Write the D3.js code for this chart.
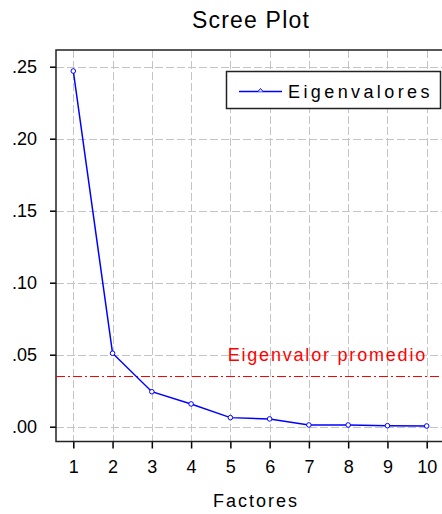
<!DOCTYPE html>
<html>
<head>
<meta charset="utf-8">
<script src="https://cdn.jsdelivr.net/npm/d3@7"></script>
<style>
	body { margin: 0; background: #fff; }
	svg { display: block; }
	text { font-family: "Liberation Sans", Arial, sans-serif; fill: #000; }
</style>
</head>
<body>
<div id="widget"></div>
<script>
// data
var factores = [1, 2, 3, 4, 5, 6, 7, 8, 9, 10];
var eigenvalores = [0.247, 0.051, 0.0243, 0.0158, 0.0063, 0.0054, 0.0012, 0.0012, 0.0007, 0.0005];
var promedio = 0.0354;
var yTicks = [0, 0.05, 0.10, 0.15, 0.20, 0.25];

var W = 442, H = 514;
var frame = {left: 56, top: 50, right: 452, bottom: 441.5};

var svg = d3.select("#widget")
	.append("svg")
	.attr("width", W)
	.attr("height", H);

var x = d3.scaleLinear().domain([1, 10]).range([73.3, 426.7]);
var y = d3.scaleLinear().domain([0, 0.25]).range([426.7, 66.7]);

// grid
var grid = svg.append("g")
	.attr("stroke", "#c4c4c4")
	.attr("stroke-dasharray", "8,3")
	.attr("stroke-width", 1);

grid.selectAll(".gx")
	.data(factores)
	.enter()
	.append("line")
	.attr("x1", function(d) { return Math.round(x(d)) + 0.5; })
	.attr("x2", function(d) { return Math.round(x(d)) + 0.5; })
	.attr("y1", frame.top)
	.attr("y2", frame.bottom);

grid.selectAll(".gy")
	.data(yTicks)
	.enter()
	.append("line")
	.attr("y1", function(d) { return Math.round(y(d)) + 0.5; })
	.attr("y2", function(d) { return Math.round(y(d)) + 0.5; })
	.attr("x1", frame.left)
	.attr("x2", frame.right);

// axes
var yAxis = d3.axisLeft(y)
	.tickValues(yTicks)
	.tickSize(6)
	.tickPadding(13)
	.tickFormat(function(d) { return d3.format(".2f")(d).replace(/^0/, ""); });

var xAxis = d3.axisBottom(x)
	.tickValues(factores)
	.tickSize(7)
	.tickPadding(12)
	.tickFormat(d3.format("d"));

var gy = svg.append("g")
	.attr("transform", "translate(" + frame.left + ",0)")
	.call(yAxis);
var gx = svg.append("g")
	.attr("transform", "translate(0," + frame.bottom + ")")
	.call(xAxis);

[gx, gy].forEach(function(g) {
	g.select(".domain").remove();
	g.selectAll(".tick line").attr("stroke", "#000").attr("stroke-width", 1.5);
	g.selectAll(".tick text")
		.style("font-size", "18px")
		.attr("fill", "#000");
});

// frame
svg.append("rect")
	.attr("x", frame.left)
	.attr("y", frame.top)
	.attr("width", frame.right - frame.left)
	.attr("height", frame.bottom - frame.top)
	.attr("fill", "none")
	.attr("stroke", "#222")
	.attr("stroke-width", 1.5);

// average eigenvalue line
svg.append("line")
	.attr("x1", frame.left)
	.attr("x2", frame.right)
	.attr("y1", Math.round(y(promedio)) + 0.5)
	.attr("y2", Math.round(y(promedio)) + 0.5)
	.attr("stroke", "#ff0000")
	.attr("stroke-width", 1)
	.attr("stroke-dasharray", "9,3,2,3");

svg.append("text")
	.attr("x", 427)
	.attr("y", 360.5)
	.attr("text-anchor", "end")
	.style("font-size", "18px")
	.style("letter-spacing", "1.8px")
	.style("fill", "#ff0000")
	.text("Eigenvalor promedio");

// scree line
var line = d3.line()
	.x(function(d, i) { return x(factores[i]); })
	.y(function(d) { return y(d); });

svg.append("path")
	.datum(eigenvalores)
	.attr("d", line)
	.attr("fill", "none")
	.attr("stroke", "#0000ff")
	.attr("stroke-width", 1.5);

svg.selectAll(".pt")
	.data(eigenvalores)
	.enter()
	.append("circle")
	.attr("cx", function(d, i) { return x(factores[i]); })
	.attr("cy", function(d) { return y(d); })
	.attr("r", 2.3)
	.attr("fill", "#fff")
	.attr("stroke", "#0000ff")
	.attr("stroke-width", 1);

// legend
var lg = svg.append("g");
lg.append("rect")
	.attr("x", 226.5)
	.attr("y", 71.5)
	.attr("width", 214)
	.attr("height", 37)
	.attr("fill", "#fff")
	.attr("stroke", "#222")
	.attr("stroke-width", 1.5);
lg.append("line")
	.attr("x1", 239)
	.attr("x2", 282)
	.attr("y1", 91.5)
	.attr("y2", 91.5)
	.attr("stroke", "#0000ff")
	.attr("stroke-width", 1.5);
lg.append("path")
	.attr("d", "M258,91.5 L260.5,88.5 L263,91.5")
	.attr("fill", "#fff")
	.attr("stroke", "#0000ff")
	.attr("stroke-width", 1);
lg.append("text")
	.attr("x", 288)
	.attr("y", 98)
	.style("font-size", "18px")
	.style("letter-spacing", "3.4px")
	.text("Eigenvalores");

// titles
svg.append("text")
	.attr("x", 251)
	.attr("y", 28)
	.attr("text-anchor", "middle")
	.style("font-size", "23px")
	.style("letter-spacing", "1.2px")
	.text("Scree Plot");

svg.append("text")
	.attr("x", 256)
	.attr("y", 507)
	.attr("text-anchor", "middle")
	.style("font-size", "18px")
	.style("letter-spacing", "2px")
	.text("Factores");
</script>
</body>
</html>
